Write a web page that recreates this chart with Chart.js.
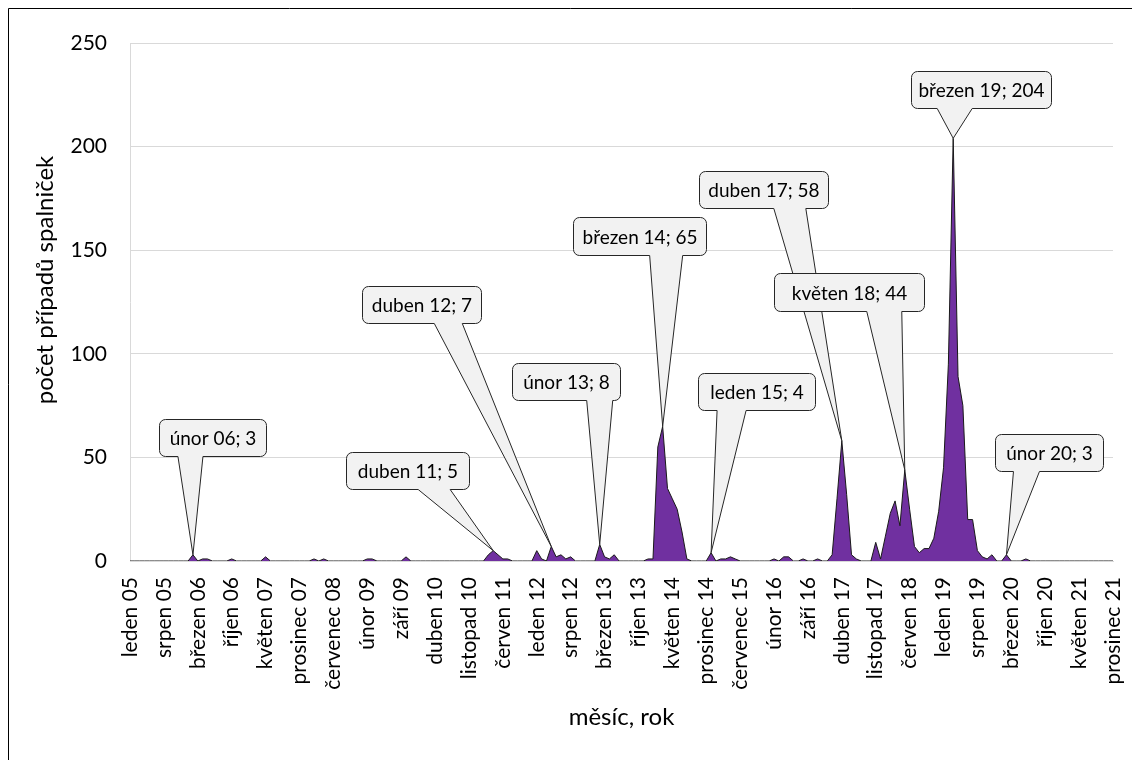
<!DOCTYPE html>
<html lang="cs">
<head>
<meta charset="utf-8">
<title>Případy spalniček</title>
<script src="https://cdn.jsdelivr.net/npm/chart.js"></script>
<style>
  html, body { margin: 0; padding: 0; background: #fff; }
  #wrap { width: 1132px; height: 760px; }
</style>
</head>
<body>
<div id="wrap"><canvas id="chart" width="1132" height="760"></canvas></div>
<script>
// month names and years used to build the category axis
const MONTHS = ['leden', 'únor', 'březen', 'duben', 'květen', 'červen',
                'červenec', 'srpen', 'září', 'říjen', 'listopad', 'prosinec'];
const YEARS = ['05', '06', '07', '08', '09', '10', '11', '12', '13',
               '14', '15', '16', '17', '18', '19', '20', '21'];

// cases per month, one array per year (leden .. prosinec)
const CASES_05 = [0, 0, 0, 0, 0, 0, 0, 0, 0, 0, 0, 0];
const CASES_06 = [0, 3, 0, 1, 1, 0, 0, 0, 0, 1, 0, 0];
const CASES_07 = [0, 0, 0, 0, 2, 0, 0, 0, 0, 0, 0, 0];
const CASES_08 = [0, 0, 1, 0, 1, 0, 0, 0, 0, 0, 0, 0];
const CASES_09 = [0, 1, 1, 0, 0, 0, 0, 0, 0, 2, 0, 0];
const CASES_10 = [0, 0, 0, 0, 0, 0, 0, 0, 0, 0, 0, 0];
const CASES_11 = [0, 0, 3, 5, 3, 1, 1, 0, 0, 0, 0, 0];
const CASES_12 = [5, 1, 0, 7, 2, 3, 1, 2, 0, 0, 0, 0];
const CASES_13 = [0, 8, 2, 1, 3, 0, 0, 0, 0, 0, 0, 1];
const CASES_14 = [1, 55, 65, 35, 30, 25, 14, 1, 0, 0, 0, 0];
const CASES_15 = [4, 0, 1, 1, 2, 1, 0, 0, 0, 0, 0, 0];
const CASES_16 = [0, 1, 0, 2, 2, 0, 0, 1, 0, 0, 1, 0];
const CASES_17 = [0, 3, 30, 58, 32, 3, 1, 0, 0, 0, 9, 1];
const CASES_18 = [12, 23, 29, 17, 44, 25, 7, 4, 6, 6, 11, 24];
const CASES_19 = [45, 95, 204, 89, 75, 20, 20, 5, 2, 1, 3, 0];
const CASES_20 = [0, 3, 0, 0, 0, 1, 0, 0, 0, 0, 0, 0];
const CASES_21 = [0, 0, 0, 0, 0, 0, 0, 0, 0, 0, 0, 0];

// labels shown on the x axis (every 7th month)
const TICK_LABELS = ['leden 05', 'srpen 05', 'březen 06', 'říjen 06', 'květen 07',
  'prosinec 07', 'červenec 08', 'únor 09', 'září 09', 'duben 10', 'listopad 10',
  'červen 11', 'leden 12', 'srpen 12', 'březen 13', 'říjen 13', 'květen 14',
  'prosinec 14', 'červenec 15', 'únor 16', 'září 16', 'duben 17', 'listopad 17',
  'červen 18', 'leden 19', 'srpen 19', 'březen 20', 'říjen 20', 'květen 21', 'prosinec 21'];

// months that carry a callout label
const LABELED_POINTS = [13, 75, 87, 97, 110, 120, 147, 160, 170, 181];

const Y_TICKS = [0, 50, 100, 150, 200, 250];

const CATEGORIES = YEARS.flatMap(y => MONTHS.map(m => m + ' ' + y));
const CASES = [].concat(CASES_05, CASES_06, CASES_07, CASES_08, CASES_09, CASES_10,
  CASES_11, CASES_12, CASES_13, CASES_14, CASES_15, CASES_16, CASES_17, CASES_18,
  CASES_19, CASES_20, CASES_21);

// callout box placement relative to its point: [left, top, width, height, wedge from, wedge to]
const CALLOUT_BOXES = [
  [-34, -136, 107, 37, -15, 10],
  [-147, -99, 123, 37, -75, -43],
  [-189, -260, 119, 37, -117, -89],
  [-88, -181, 108, 37, -13, 13],
  [-90, -209, 133, 38, -13, 20],
  [-13, -180, 117, 37, 6, 35],
  [-143, -270, 129, 37, -68, -36],
  [-131, -197, 150, 38, -38, -3],
  [-42, -67, 140, 37, -16, 19],
  [-11, -121, 108, 37, 7, 33]
];

const FONT = 'Lato';

function roundedCallout(ctx, L, T, W, H, r, tx, ty, b0, b1) {
    const R = L + W, B = T + H;
    ctx.beginPath();
    ctx.moveTo(L + r, T);
    ctx.lineTo(R - r, T);
    ctx.arcTo(R, T, R, T + r, r);
    ctx.lineTo(R, B - r);
    ctx.arcTo(R, B, R - r, B, r);
    ctx.lineTo(tx + b1, B);
    ctx.lineTo(tx, ty);
    ctx.lineTo(tx + b0, B);
    ctx.lineTo(L + r, B);
    ctx.arcTo(L, B, L, B - r, r);
    ctx.lineTo(L, T + r);
    ctx.arcTo(L, T, L + r, T, r);
    ctx.closePath();
}

// callouts, y axis title and the outer frame
const extras = {
    id: 'extras',
    afterDatasetsDraw(chart) {
        const ctx = chart.ctx;
        const meta = chart.getDatasetMeta(0);
        ctx.save();
        LABELED_POINTS.forEach((idx, k) => {
            const pt = meta.data[idx];
            const [dx, dy, w, h, b0, b1] = CALLOUT_BOXES[k];
            const L = Math.round(pt.x + dx) + 0.5;
            const T = Math.round(pt.y + dy) + 0.5;
            roundedCallout(ctx, L, T, w, h, 6, pt.x, pt.y, b0, b1);
            ctx.fillStyle = '#f2f2f2';
            ctx.fill();
            ctx.lineWidth = 1;
            ctx.strokeStyle = '#262626';
            ctx.stroke();
            ctx.fillStyle = '#000';
            ctx.font = '19px ' + FONT;
            ctx.textAlign = 'center';
            ctx.textBaseline = 'middle';
            ctx.fillText(CATEGORIES[idx] + '; ' + CASES[idx], L + w / 2, T + h / 2 + 1);
        });
        ctx.restore();
    },
    afterDraw(chart) {
        const ctx = chart.ctx;
        ctx.save();
        // y axis title
        ctx.translate(45, 280);
        ctx.rotate(-Math.PI / 2);
        ctx.font = '24px ' + FONT;
        ctx.fillStyle = '#000';
        ctx.textAlign = 'center';
        ctx.textBaseline = 'middle';
        ctx.fillText('počet případů spalniček', 0, 0);
        ctx.restore();
        // frame (only top and left edges are inside the picture)
        ctx.save();
        ctx.strokeStyle = '#000';
        ctx.lineWidth = 1;
        ctx.beginPath();
        ctx.moveTo(8.5, 760);
        ctx.lineTo(8.5, 8.5);
        ctx.lineTo(1132, 8.5);
        ctx.stroke();
        ctx.restore();
    }
};

Chart.defaults.font.family = FONT;
Chart.defaults.color = '#000';

new Chart(document.getElementById('chart'), {
    type: 'line',
    data: {
        labels: CATEGORIES,
        datasets: [{
            data: CASES,
            fill: 'origin',
            backgroundColor: '#7030a0',
            borderColor: '#1a1a1a',
            borderWidth: 1,
            pointRadius: 0,
            tension: 0
        }]
    },
    options: {
        responsive: false,
        devicePixelRatio: 1,
        animation: false,
        layout: { padding: { left: 0, top: 0, right: 0, bottom: 0 } },
        plugins: { legend: { display: false }, tooltip: { enabled: false } },
        scales: {
            x: {
                offset: false,
                grid: { display: false, drawTicks: false },
                border: { display: true, color: '#d9d9d9', width: 1 },
                ticks: {
                    autoSkip: false,
                    maxRotation: 90,
                    minRotation: 90,
                    padding: 16,
                    font: { size: 21 },
                    color: '#000',
                    callback: function(v, i) {
                        const lab = CATEGORIES[i];
                        return TICK_LABELS.includes(lab) ? lab : '';
                    }
                },
                title: {
                    display: true,
                    text: 'měsíc, rok',
                    font: { size: 24 },
                    color: '#000',
                    padding: { top: 0, bottom: 28 }
                },
                afterFit: function(scale) {
                    scale.height = 199;
                    scale.paddingLeft = 0;
                    scale.paddingRight = 19;
                }
            },
            y: {
                min: 0,
                max: 250,
                afterBuildTicks: function(scale) { scale.ticks = Y_TICKS.map(v => ({ value: v })); },
                grid: { color: '#d9d9d9', drawTicks: false },
                border: { display: true, color: '#d9d9d9' },
                ticks: { padding: 23, font: { size: 21 }, color: '#000' },
                afterFit: function(scale) {
                    scale.width = 130;
                    scale.paddingTop = 43;
                    scale.paddingBottom = 0;
                }
            }
        }
    },
    plugins: [extras]
});
</script>
</body>
</html>
